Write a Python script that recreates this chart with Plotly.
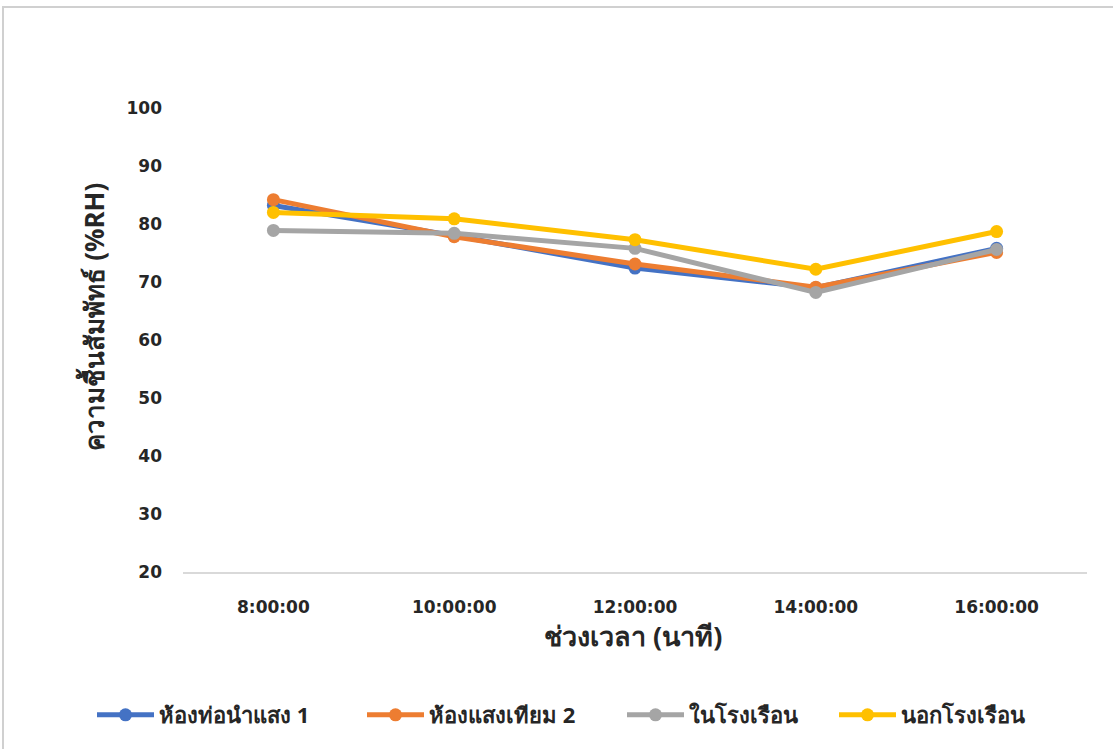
import plotly.graph_objects as go

# Relative humidity through the day at four measurement locations
times = ["8:00:00", "10:00:00", "12:00:00", "14:00:00", "16:00:00"]
series_names = ["ห้องท่อนำแสง 1", "ห้องแสงเทียม 2", "ในโรงเรือน", "นอกโรงเรือน"]
rh_pipe_room = [83.2, 78.0, 72.4, 69.0, 75.8]
rh_artificial_room = [84.2, 77.8, 73.1, 69.1, 75.1]
rh_inside_greenhouse = [78.9, 78.4, 75.8, 68.2, 75.6]
rh_outside_greenhouse = [82.0, 80.9, 77.3, 72.2, 78.7]
y_ticks = [20, 30, 40, 50, 60, 70, 80, 90, 100]

colors = ["#4472C4", "#ED7D31", "#A5A5A5", "#FFC000"]
values = [rh_pipe_room, rh_artificial_room, rh_inside_greenhouse, rh_outside_greenhouse]

NUM_FONT = "DejaVu Sans, sans-serif"
THAI_FONT = "Noto Sans, sans-serif"
TEXT = "#262626"

W, H = 1113, 749
L, R, T, B = 183, 26, 108, 177
pw, ph = W - L - R, H - T - B


def px(x):
    return (x - L) / pw


def py(y):
    return (H - B - y) / ph


# each series gets its own legend box so the entries can be spaced out along the bottom
legend_ids = ["legend", "legend2", "legend3", "legend4"]
legend_left = [92, 362, 622, 834]

fig = go.Figure()
for name, vals, col, lg in zip(series_names, values, colors, legend_ids):
    fig.add_trace(go.Scatter(
        x=times, y=vals, name=name, mode="lines+markers",
        line=dict(color=col, width=5),
        marker=dict(color=col, size=13),
        legend=lg,
    ))

legend_style = dict(
    orientation="h", y=py(715), yanchor="middle", xanchor="left",
    font=dict(size=22, family=THAI_FONT, color=TEXT, weight="bold"),
    itemwidth=57, bgcolor="rgba(0,0,0,0)",
)
legends = {lg: dict(legend_style, x=px(x0)) for lg, x0 in zip(legend_ids, legend_left)}

fig.update_layout(
    width=W, height=H,
    margin=dict(l=L, r=R, t=T, b=B),
    paper_bgcolor="white", plot_bgcolor="white",
    font=dict(family=THAI_FONT, color=TEXT),
    showlegend=True,
    **legends,
    xaxis=dict(
        type="category", range=[-0.5, 4.5],
        showgrid=False, showline=True, linecolor="#D9D9D9", linewidth=2,
        ticks="", ticklabelstandoff=19,
        tickfont=dict(size=17, family=NUM_FONT, color=TEXT, weight="bold"),
        zeroline=False, fixedrange=True,
    ),
    yaxis=dict(
        range=[20, 100], tickvals=y_ticks,
        showgrid=False, showline=False, zeroline=False,
        ticks="", ticklabelstandoff=20,
        tickfont=dict(size=17, family=NUM_FONT, color=TEXT, weight="bold"),
        fixedrange=True,
    ),
    shapes=[
        dict(type="rect", xref="paper", yref="paper",
             x0=px(3), x1=px(1130), y0=py(7), y1=py(770),
             line=dict(color="#D0D0D0", width=2), layer="below"),
    ],
    annotations=[
        dict(text="<b>ความชื้นสัมพัทธ์ (%RH)</b>", xref="paper", yref="paper",
             x=px(72), y=py(317), textangle=-90, showarrow=False,
             font=dict(size=26, family=THAI_FONT, color=TEXT)),
        dict(text="<b>ช่วงเวลา (นาที)</b>", xref="paper", yref="paper",
             x=px(633), y=py(656), showarrow=False,
             font=dict(size=27, family=THAI_FONT, color=TEXT)),
    ],
)

fig.write_html("out.html")
